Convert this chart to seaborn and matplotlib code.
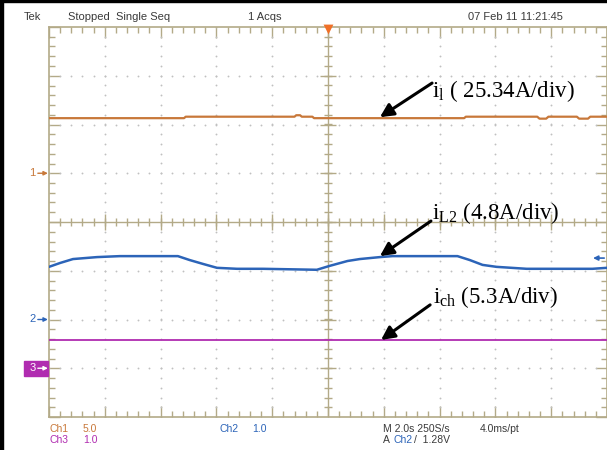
import numpy as np
import pandas as pd
import matplotlib
matplotlib.use("Agg")
import matplotlib.pyplot as plt
import seaborn as sns
from matplotlib.ticker import MultipleLocator
from matplotlib.patches import Rectangle

# ---------------- data (time in s, level in screen divisions) ----------------
ch1_time = [0, 4.84, 4.90, 8.80, 8.86, 9.00, 9.06, 9.44, 9.50, 14.88, 14.94,
            17.50, 17.58, 17.82, 17.90, 18.92, 19.00, 19.32, 19.40, 20.0]
ch1_level = [2.13, 2.13, 2.16, 2.16, 2.19, 2.19, 2.16, 2.16, 2.13, 2.13, 2.16,
             2.16, 2.12, 2.12, 2.16, 2.16, 2.12, 2.12, 2.16, 2.16]

ch2_time = [0, 0.4, 0.86, 1.72, 2.54, 4.62, 5.04, 5.52, 6.02, 6.74, 7.66, 9.6,
            10.06, 10.7, 11.14, 11.86, 12.32, 14.64, 15.08, 15.54, 16.04, 17.12,
            19.48, 20.0]
ch2_level = [-0.92, -0.84, -0.76, -0.72, -0.70, -0.70, -0.78, -0.86, -0.94, -0.96,
             -0.96, -0.98, -0.90, -0.80, -0.76, -0.72, -0.70, -0.70, -0.78, -0.88,
             -0.92, -0.96, -0.96, -0.94]

ch3_time = [0, 20.0]
ch3_level = [-2.42, -2.42]

ground_channels = ["1", "2", "3"]
ground_levels = [1.0, -2.0, -3.0]
trigger_level = -0.74

labels = [r"$\mathregular{i_{l}}$ ( 25.34A/div)",
          r"$\mathregular{i_{L2}}$ (4.8A/div)",
          r"$\mathregular{i_{ch}}$ (5.3A/div)"]

header = ["Tek", "Stopped  Single Seq", "1 Acqs", "07 Feb 11 11:21:45"]

# ---------------- style ----------------
sns.set_style("white")
plt.rcParams["font.family"] = ["Liberation Sans", "DejaVu Sans"]
plt.rcParams["mathtext.fontset"] = "custom"
plt.rcParams["mathtext.rm"] = "Liberation Serif"

C1 = "#c8783a"
C2 = "#2c64b8"
C3 = "#b02cb0"
KHAKI = "#b3aa88"
DOT = "#c0c0c0"
TXT = "#3a3a3a"

W, H = 607, 450
L, R, T, B = 49, 607, 27, 417
fig = plt.figure(figsize=(W / 100, H / 100), dpi=100)
ax = fig.add_axes([L / W, 1 - B / H, (R - L) / W, (B - T) / H])
ax.set_xlim(0, 20)
ax.set_ylim(-4, 4)


def fx(px):
    return px / W


def fy(py):
    return 1 - py / H


# dotted graticule
dx = np.arange(0, 20.001, 0.4)
dy = np.arange(-4, 4.001, 0.2)
for gx in [2, 4, 6, 8, 12, 14, 16, 18]:
    ax.scatter(np.full_like(dy, gx), dy, s=1.8, color=DOT, linewidths=0, zorder=1)
for gy in [-3, -2, -1, 1, 2, 3]:
    ax.scatter(dx, np.full_like(dx, gy), s=1.8, color=DOT, linewidths=0, zorder=1)

# centre cross with ticks
ax.axhline(0, color=KHAKI, lw=1.0, zorder=2)
ax.axvline(10, color=KHAKI, lw=1.0, zorder=2)
ax.vlines(np.arange(0.4, 20, 0.4), -0.08, 0.08, color=KHAKI, lw=1.0, zorder=2)
ax.vlines(np.arange(2, 20, 2), -0.16, 0.16, color=KHAKI, lw=1.0, zorder=2)
ax.hlines(np.arange(-3.8, 4, 0.2), 10 - 0.15, 10 + 0.15, color=KHAKI, lw=1.0, zorder=2)
ax.hlines(np.arange(-3, 4, 1), 10 - 0.3, 10 + 0.3, color=KHAKI, lw=1.0, zorder=2)

# border ticks
for s in ax.spines.values():
    s.set_color(KHAKI)
    s.set_linewidth(1.2)
ax.xaxis.set_major_locator(MultipleLocator(2))
ax.xaxis.set_minor_locator(MultipleLocator(0.4))
ax.yaxis.set_major_locator(MultipleLocator(1))
ax.yaxis.set_minor_locator(MultipleLocator(0.2))
ax.tick_params(which="both", direction="in", top=True, right=True, bottom=True, left=True,
               labelbottom=False, labelleft=False, color=KHAKI, width=1.0)
ax.tick_params(which="major", length=8)
ax.tick_params(which="minor", length=4)

# traces
df1 = pd.DataFrame({"t": ch1_time, "v": ch1_level})
df2 = pd.DataFrame({"t": ch2_time, "v": ch2_level})
df3 = pd.DataFrame({"t": ch3_time, "v": ch3_level})
sns.lineplot(data=df1, x="t", y="v", color=C1, lw=1.6, sort=False, estimator=None, ax=ax, zorder=5)
sns.lineplot(data=df2, x="t", y="v", color=C2, lw=1.8, sort=False, estimator=None, ax=ax, zorder=5)
sns.lineplot(data=df3, x="t", y="v", color=C3, lw=1.3, sort=False, estimator=None, ax=ax, zorder=5)
ax.set_xlabel("")
ax.set_ylabel("")

# annotations with arrows
tips = [(11.86, ch1_level[0] + 0.02), (11.86, -0.70), (11.90, ch3_level[0])]
tails = [(13.73, 2.85), (13.69, 0.02), (13.66, -1.70)]
text_pos = [(13.73, 2.56), (13.73, 0.06), (13.76, -1.66)]
for tip, tail, tp, lab in zip(tips, tails, text_pos, labels):
    ax.annotate("", xy=tip, xytext=tail,
                arrowprops=dict(arrowstyle="-|>", color="black", lw=2.2,
                                mutation_scale=20, shrinkA=0, shrinkB=0), zorder=8)
    ax.text(tp[0], tp[1], lab, family=["Liberation Serif"], fontsize=16.5,
            ha="left", va="baseline", color="black", zorder=8)

# ground markers
gcols = [C1, C2, C3]
for ch, lvl, col in zip(ground_channels, ground_levels, gcols):
    if ch == "3":
        ax.add_patch(Rectangle((-0.90, lvl - 0.15), 0.87, 0.29, color=col,
                               clip_on=False, zorder=3))
        tcol = "white"
    else:
        tcol = col
    ax.text(-0.60, lvl, ch, color=tcol, fontsize=8, ha="center", va="center",
            clip_on=False, zorder=4)
    ax.annotate("", xy=(-0.04, lvl), xytext=(-0.40, lvl),
                arrowprops=dict(arrowstyle="-|>", color=tcol, lw=1.0,
                                mutation_scale=6, shrinkA=0, shrinkB=0),
                annotation_clip=False, zorder=4)

# trigger level arrow (right) and trigger position marker (top)
ax.annotate("", xy=(19.50, trigger_level), xytext=(19.90, trigger_level),
            arrowprops=dict(arrowstyle="-|>", color=C2, lw=1.2,
                            mutation_scale=7, shrinkA=0, shrinkB=0),
            annotation_clip=False, zorder=6)
ax.scatter([10], [3.96], marker="v", s=50, color="#f07028", linewidths=0,
           clip_on=False, zorder=9)

# header
hx = [24, 68, 248, 468]
for x, s in zip(hx, header):
    fig.text(fx(x), fy(17), s, fontsize=8, color=TXT, ha="left", va="center")

# footer
r1, r2 = 429, 440
fig.text(fx(50), fy(r1), "Ch1", fontsize=7.5, color=C1, va="center")
fig.text(fx(83), fy(r1), "5.0", fontsize=7.5, color=C1, va="center")
fig.text(fx(219), fy(r1), "Ch2", fontsize=7.5, color=C2, va="center")
fig.text(fx(252), fy(r1), "1.0", fontsize=7.5, color=C2, va="center")
fig.text(fx(383), fy(r1), "M 2.0s 250S/s", fontsize=7.5, color=TXT, va="center")
fig.text(fx(480), fy(r1), "4.0ms/pt", fontsize=7.5, color=TXT, va="center")
fig.text(fx(50), fy(r2), "Ch3", fontsize=7.5, color=C3, va="center")
fig.text(fx(83), fy(r2), "1.0", fontsize=7.5, color=C3, va="center")
fig.text(fx(383), fy(r2), "A", fontsize=7.5, color=TXT, va="center")
fig.text(fx(393), fy(r2), "Ch2", fontsize=7.5, color=C2, va="center")
fig.text(fx(414), fy(r2), "/  1.28V", fontsize=7.5, color=TXT, va="center")

# black frame on the left and top
fig.patches.append(Rectangle((0, 0), 3 / W, 1, transform=fig.transFigure, color="black", zorder=10))
fig.patches.append(Rectangle((0, 1 - 1.5 / H), 1, 1.5 / H, transform=fig.transFigure, color="black", zorder=10))

fig.savefig("out.png", dpi=100)
